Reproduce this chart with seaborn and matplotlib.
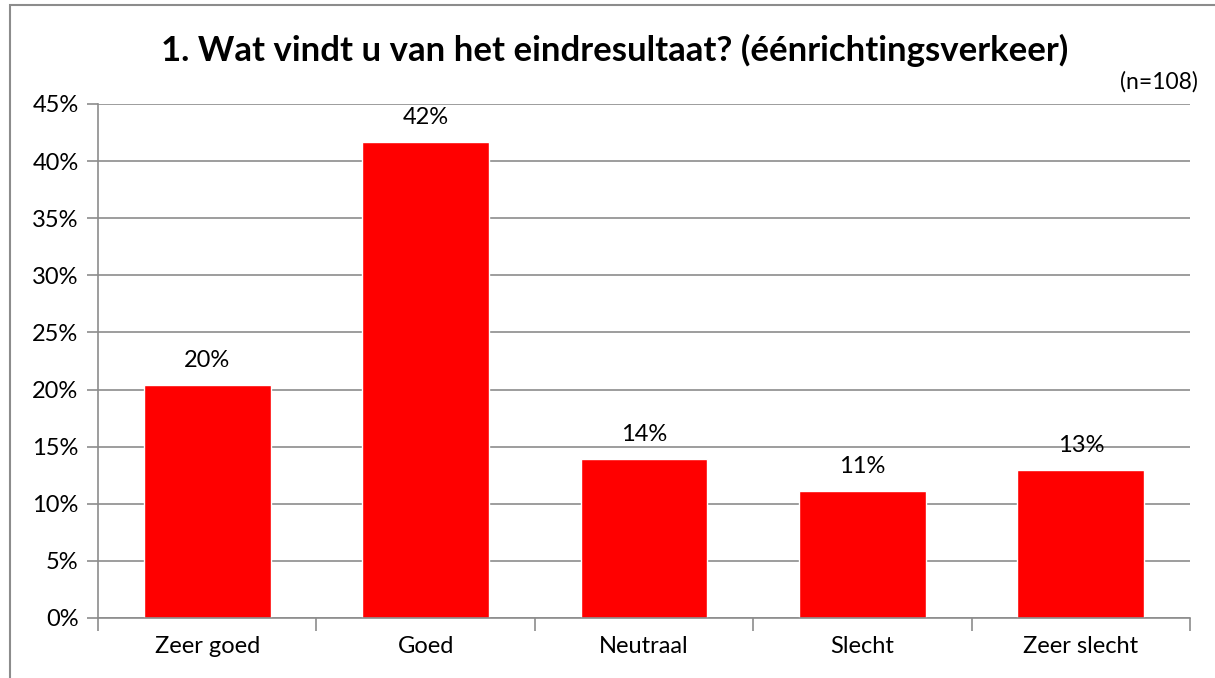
import matplotlib
matplotlib.use("Agg")
import matplotlib.pyplot as plt
import seaborn as sns
import pandas as pd
from matplotlib.patches import Rectangle
from matplotlib.ticker import MultipleLocator, FuncFormatter

categories = ["Zeer goed", "Goed", "Neutraal", "Slecht", "Zeer slecht"]
values = [20.4, 41.7, 13.9, 11.1, 13.0]
labels = ["20%", "42%", "14%", "11%", "13%"]
title = "1. Wat vindt u van het eindresultaat? (éénrichtingsverkeer)"
note = "(n=108)"

sns.set_theme(style="white")
plt.rcParams['font.family'] = ['Lato', 'DejaVu Sans']
plt.rcParams['text.color'] = 'black'

W, H = 1215, 678
fig = plt.figure(figsize=(W/100, H/100), dpi=100)
ax = fig.add_axes([98/W, 1-618/H, (1190-98)/W, (618-104)/H])

df = pd.DataFrame({"cat": categories, "val": values})
sns.barplot(data=df, x="cat", y="val", color="#ff0000", saturation=1, width=0.58, ax=ax)

ax.set_ylim(0, 45)
ax.set_xlim(-0.5, 4.5)
ax.yaxis.set_major_locator(MultipleLocator(5))
ax.yaxis.set_major_formatter(FuncFormatter(lambda v, p: f"{int(round(v))}%"))
ax.grid(axis="y", color="#8c8c8c", linewidth=1.2)
ax.set_axisbelow(True)
for s in ["top", "right"]:
    ax.spines[s].set_visible(False)
for s in ["left", "bottom"]:
    ax.spines[s].set_color("#8c8c8c")
    ax.spines[s].set_linewidth(1.2)
ax.set_xlabel("")
ax.set_ylabel("")
ax.tick_params(axis="y", which="major", length=8, width=1.2, color="#8c8c8c",
               labelcolor="black", labelsize=17, pad=6, left=True)
ax.set_xticks(range(len(categories)))
ax.set_xticklabels(categories)
ax.tick_params(axis="x", which="major", length=0, labelsize=17, pad=13, labelcolor="black")
ax.set_xticks([-0.5, 0.5, 1.5, 2.5, 3.5, 4.5], minor=True)
ax.tick_params(axis="x", which="minor", length=9, width=1.2, color="#8c8c8c", bottom=True)

for i, (v, l) in enumerate(zip(values, labels)):
    ax.annotate(l, (i, v), xytext=(0, 10), textcoords="offset points",
                ha="center", va="bottom", fontsize=17, color="black")

fig.text(615/W, 1-50/H, title, ha="center", va="center", fontsize=25,
         fontweight="bold", color="black")
fig.text(1198/W, 1-82/H, note, ha="right", va="center", fontsize=16.5, color="black")

fig.patches.append(Rectangle((10/W, -0.1), 1.2, 1-5/H+0.1, transform=fig.transFigure,
                             fill=False, edgecolor="#8c8c8c", linewidth=1.5))

fig.savefig("out.png", dpi=100)
